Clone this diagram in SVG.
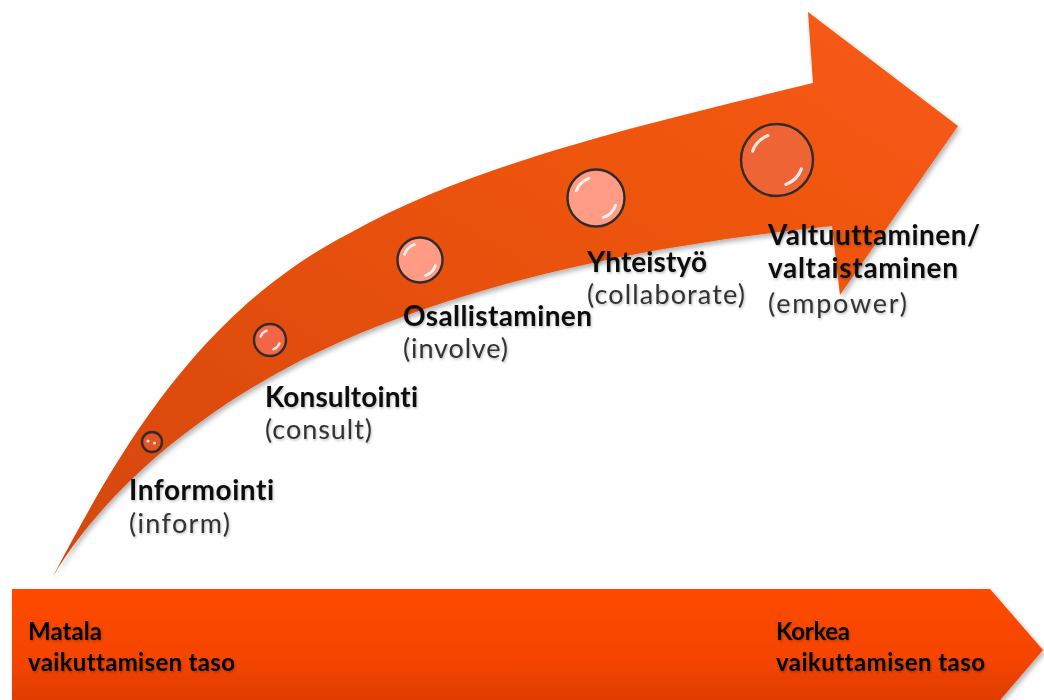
<svg xmlns="http://www.w3.org/2000/svg" width="1044" height="700" viewBox="0 0 1044 700">
  <defs>
    <linearGradient id="gCurve" x1="0" y1="1" x2="1" y2="0">
      <stop offset="0" stop-color="#D4470D"/>
      <stop offset="0.5" stop-color="#E8510F"/>
      <stop offset="1" stop-color="#F95A13"/>
    </linearGradient>
    <linearGradient id="gBar" x1="0" y1="0" x2="0" y2="1">
      <stop offset="0" stop-color="#FF4A00"/>
      <stop offset="0.6" stop-color="#F44400"/>
      <stop offset="1" stop-color="#D93A00"/>
    </linearGradient>
    <filter id="shadow" x="-10%" y="-10%" width="120%" height="120%">
      <feDropShadow dx="2" dy="3" stdDeviation="2.5" flood-color="#000" flood-opacity="0.3"/>
    </filter>
    <filter id="tshadow" x="-5%" y="-20%" width="110%" height="140%">
      <feDropShadow dx="1" dy="1.5" stdDeviation="1" flood-color="#000" flood-opacity="0.25"/>
    </filter>
  </defs>
  <style>
    text { font-variant-ligatures: none; font-family: Lato, "Open Sans", "Liberation Sans", sans-serif; }
    .bold { font-weight: bold; font-size: 28px; fill: #111; }
    .reg { font-size: 27px; fill: #333; }
    .bar { font-weight: bold; font-size: 24px; fill: #000; }
    .dot { stroke: #332a2a; stroke-width: 2.4; }
    .hl { fill: none; stroke: #fff; stroke-linecap: round; stroke-opacity: 0.85; }
  </style>
  <rect width="1044" height="700" fill="#fff"/>

  <g id="curved-arrow" filter="url(#shadow)">
    <path d="M52,578 C110,470 190,315 350,233 C470,165 640,125 813,83 L808,12 L958,126 L840,295 L832,226 C650,245 480,280 340,342 C220,395 110,480 52,578 Z" fill="url(#gCurve)"/>
  </g>

  <g id="level-bar" filter="url(#shadow)">
    <path d="M12,589 L990,589 L1043,650 L990,712 L12,712 Z" fill="url(#gBar)"/>
  </g>

  <g id="connectors"/>

  <g id="stage-informointi">
    <circle cx="152" cy="442" r="10" fill="#E25424" class="dot"/>
    <circle cx="148" cy="441" r="1.6" fill="#fff" opacity="0.85"/>
    <circle cx="154.5" cy="443" r="1.6" fill="#fff" opacity="0.85"/>
    <g filter="url(#tshadow)">
      <text x="129" y="500" class="bold" textLength="145">Informointi</text>
      <text x="129" y="533" class="reg" textLength="101">(inform)</text>
    </g>
  </g>

  <g id="stage-konsultointi">
    <circle cx="270" cy="340" r="16" fill="#F26645" class="dot"/>
    <path d="M260.6,336.6 A10,10 0 0 1 266.6,330.6" class="hl" stroke-width="2.5"/>
    <path d="M279.4,343.4 A10,10 0 0 1 273.4,349.4" class="hl" stroke-width="2.5"/>
    <g filter="url(#tshadow)">
      <text x="265" y="407" class="bold" textLength="153">Konsultointi</text>
      <text x="265" y="439" class="reg" textLength="107">(consult)</text>
    </g>
  </g>

  <g id="stage-osallistaminen">
    <circle cx="420" cy="260" r="22.5" fill="#FF9B84" class="dot"/>
    <path d="M404.5,254.4 A16.5,16.5 0 0 1 414.4,244.5" class="hl" stroke-width="2.8"/>
    <path d="M435.5,265.6 A16.5,16.5 0 0 1 425.6,275.5" class="hl" stroke-width="2.8"/>
    <g filter="url(#tshadow)">
      <text x="403" y="326" class="bold" textLength="189">Osallistaminen</text>
      <text x="403" y="358" class="reg" textLength="105">(involve)</text>
    </g>
  </g>

  <g id="stage-yhteistyo">
    <circle cx="596" cy="198" r="28.5" fill="#FF9C86" class="dot"/>
    <path d="M576.3,190.8 A21,21 0 0 1 588.8,178.3" class="hl" stroke-width="3"/>
    <path d="M615.7,205.2 A21,21 0 0 1 603.2,217.7" class="hl" stroke-width="3"/>
    <g filter="url(#tshadow)">
      <text x="587" y="272" class="bold" textLength="120">Yhteistyö</text>
      <text x="587" y="304" class="reg" textLength="158">(collaborate)</text>
    </g>
  </g>

  <g id="stage-valtuuttaminen">
    <circle cx="777" cy="160" r="36" fill="#EE6434" class="dot"/>
    <path d="M752.6,151.1 A26,26 0 0 1 768.1,135.6" class="hl" stroke-width="3.2"/>
    <path d="M801.4,168.9 A26,26 0 0 1 785.9,184.4" class="hl" stroke-width="3.2"/>
    <g filter="url(#tshadow)">
      <text x="768" y="245" class="bold" textLength="212">Valtuuttaminen/</text>
      <text x="768" y="278" class="bold" textLength="190">valtaistaminen</text>
      <text x="768" y="313" class="reg" textLength="139">(empower)</text>
    </g>
  </g>

  <g id="label-low" filter="url(#tshadow)">
    <text x="28" y="640" class="bar" textLength="74">Matala</text>
    <text x="28" y="671" class="bar" textLength="207">vaikuttamisen taso</text>
  </g>

  <g id="label-high" filter="url(#tshadow)">
    <text x="776" y="640" class="bar" textLength="74">Korkea</text>
    <text x="776" y="671" class="bar" textLength="209">vaikuttamisen taso</text>
  </g>
</svg>
